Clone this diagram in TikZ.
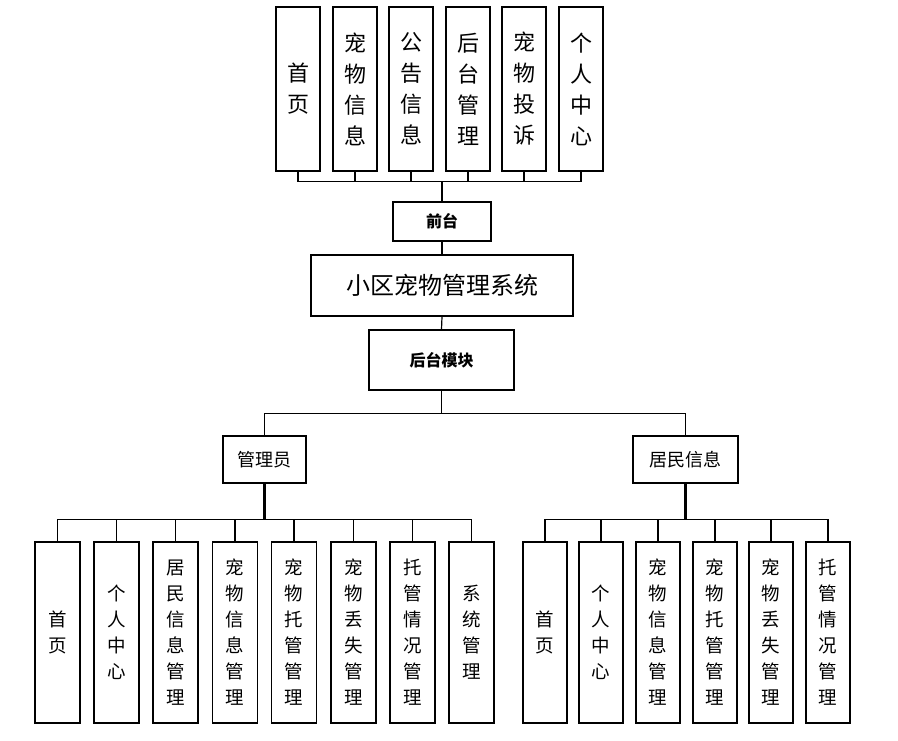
\documentclass[tikz,border=0pt]{standalone}
\usepackage{fontspec}
\setmainfont{Noto Sans CJK SC}
\begin{document}
\begin{tikzpicture}[x=1pt,y=1pt,
  box/.style={draw=black, line width=1.2pt, fill=white, inner sep=0pt, align=center},
  topbox/.style={box, minimum width=44pt, minimum height=164pt, font=\fontsize{22}{31}\selectfont},
  botbox/.style={box, minimum width=45pt, minimum height=181pt, font=\fontsize{18.5}{26}\selectfont},
  link/.style={draw=black, line width=1.2pt},
  thicklink/.style={draw=black, line width=2.2pt}]
\useasboundingbox (0,0) rectangle (898,-740);
% top row
\node[topbox] (t1) at (298,-89) {首\\页};
\node[topbox] (t2) at (355,-89) {宠\\物\\信\\息};
\node[topbox] (t3) at (411,-89) {公\\告\\信\\息};
\node[topbox] (t4) at (468,-89) {后\\台\\管\\理};
\node[topbox] (t5) at (524,-89) {宠\\物\\投\\诉};
\node[topbox] (t6) at (581,-89) {个\\人\\中\\心};
% center column
\node[box, minimum width=98pt, minimum height=39pt, font=\bfseries\fontsize{16}{18}\selectfont] (qt) at (442,-221.5) {前台};
\node[box, minimum width=262pt, minimum height=61pt, font=\fontsize{24}{26}\selectfont] (sys) at (442,-285.5) {小区宠物管理系统};
\node[box, minimum width=145pt, minimum height=60pt, font=\bfseries\fontsize{16}{18}\selectfont] (ht) at (441.5,-360) {后台模块};
\node[box, minimum width=83pt, minimum height=47pt, font=\fontsize{18}{20}\selectfont] (gly) at (264.5,-459.5) {管理员};
\node[box, minimum width=105pt, minimum height=47pt, font=\fontsize{18}{20}\selectfont] (jm) at (685.5,-459.5) {居民信息};
% left bottom row
\node[botbox] (a1) at (57.5,-632.5) {首\\页};
\node[botbox] (a2) at (116.5,-632.5) {个\\人\\中\\心};
\node[botbox] (a3) at (175.5,-632.5) {居\\民\\信\\息\\管\\理};
\node[botbox] (a4) at (235,-632.5) {宠\\物\\信\\息\\管\\理};
\node[botbox] (a5) at (294,-632.5) {宠\\物\\托\\管\\管\\理};
\node[botbox] (a6) at (353.5,-632.5) {宠\\物\\丢\\失\\管\\理};
\node[botbox] (a7) at (412.5,-632.5) {托\\管\\情\\况\\管\\理};
\node[botbox] (a8) at (471.5,-632.5) {系\\统\\管\\理};
% right bottom row
\node[botbox, minimum width=44pt] (b1) at (545,-632.5) {首\\页};
\node[botbox, minimum width=44pt] (b2) at (601,-632.5) {个\\人\\中\\心};
\node[botbox, minimum width=44pt] (b3) at (658,-632.5) {宠\\物\\信\\息\\管\\理};
\node[botbox, minimum width=44pt] (b4) at (715,-632.5) {宠\\物\\托\\管\\管\\理};
\node[botbox, minimum width=44pt] (b5) at (771,-632.5) {宠\\物\\丢\\失\\管\\理};
\node[botbox, minimum width=44pt] (b6) at (828,-632.5) {托\\管\\情\\况\\管\\理};
% connectors top
\foreach \t in {t1,t2,t3,t4,t5,t6} \draw[link] (qt.north) -- ++(0,20) -| (\t.south);
\draw[link] (qt.south) -- (sys.north);
\draw[link] (sys.south) -- (ht.north);
\draw[link] (ht.south) -- ++(0,-23) -| (gly.north);
\draw[link] (ht.south) -- ++(0,-23) -| (jm.north);
\draw[thicklink] (gly.south) -- ++(0,-36) coordinate (gb);
\draw[thicklink] (jm.south) -- ++(0,-36) coordinate (jb);
\foreach \a in {a1,a2,a3,a4,a5,a6,a7,a8} \draw[link] (gb) -| (\a.north);
\foreach \b in {b1,b2,b3,b4,b5,b6} \draw[link] (jb) -| (\b.north);
\end{tikzpicture}
\end{document}
